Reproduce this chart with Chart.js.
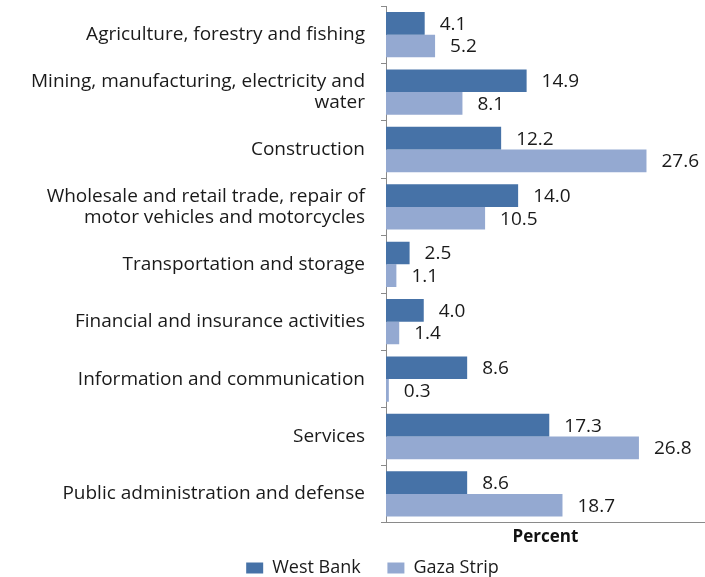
<!DOCTYPE html>
<html>
<head>
<meta charset="utf-8">
<script src="https://cdn.jsdelivr.net/npm/chart.js@4"></script>
<style>
  html, body { margin: 0; padding: 0; background: #fff; }
  #wrap { width: 705px; height: 577px; }
</style>
</head>
<body>
<div id="wrap"><canvas id="grafico"></canvas></div>
<script>
// datos del gráfico
const categorias = [
  "Agriculture, forestry and fishing",
  ["Mining, manufacturing, electricity and", "water"],
  "Construction",
  ["Wholesale and retail trade, repair of", "motor vehicles and motorcycles"],
  "Transportation and storage",
  "Financial and insurance activities",
  "Information and communication",
  "Services",
  "Public administration and defense"
];
const westBank = [4.1, 14.9, 12.2, 14.0, 2.5, 4.0, 8.6, 17.3, 8.6];
const gazaStrip = [5.2, 8.1, 27.6, 10.5, 1.1, 1.4, 0.3, 26.8, 18.7];
const series = ["West Bank", "Gaza Strip"];

const fuente = "'Open Sans', sans-serif";

// etiquetas de valor al final de cada barra
const etiquetasValor = {
  id: "etiquetasValor",
  afterLayout(chart) {
    // dejar que las etiquetas largas del eje Y ocupen el margen izquierdo
    chart.scales.y.left = 0;
  },
  afterDatasetsDraw(chart) {
    const ctx = chart.ctx;
    ctx.save();
    ctx.font = "19px " + fuente;
    ctx.fillStyle = "#1a1a1a";
    ctx.textAlign = "left";
    ctx.textBaseline = "middle";
    chart.data.datasets.forEach((ds, i) => {
      chart.getDatasetMeta(i).data.forEach((barra, j) => {
        ctx.fillText(ds.data[j].toFixed(1), barra.x + 15, barra.y + 1);
      });
    });
    ctx.restore();
  }
};

new Chart(document.getElementById("grafico"), {
  type: "bar",
  data: {
    labels: categorias,
    datasets: [
      { label: series[0], data: westBank, backgroundColor: "#4672a7", categoryPercentage: 0.79, barPercentage: 1 },
      { label: series[1], data: gazaStrip, backgroundColor: "#94a9d1", categoryPercentage: 0.79, barPercentage: 1 }
    ]
  },
  options: {
    indexAxis: "y",
    responsive: true,
    maintainAspectRatio: false,
    animation: false,
    layout: { padding: { left: 40, top: 6, right: 0, bottom: -10 } },
    plugins: {
      legend: {
        position: "bottom",
        labels: {
          font: { family: fuente, size: 18 }, color: "#1a1a1a", boxWidth: 17, boxHeight: 11, padding: 8,
          // separar un poco más los elementos de la leyenda
          generateLabels(chart) {
            const items = Chart.defaults.plugins.legend.labels.generateLabels(chart);
            items[0].text = items[0].text + "    ";
            return items;
          }
        }
      },
      tooltip: { enabled: false }
    },
    scales: {
      x: {
        min: 0,
        max: 33.8,
        grid: { display: false },
        border: { color: "#8a8a8a" },
        ticks: { display: false },
        title: { display: true, text: "Percent", font: { family: fuente, size: 17, weight: "bold" }, color: "#111", padding: { top: -4, bottom: 4 } }
      },
      y: {
        grid: { drawOnChartArea: false, drawTicks: true, tickLength: 5, offset: true, color: "#8a8a8a" },
        border: { color: "#8a8a8a" },
        ticks: { font: { family: fuente, size: 19, lineHeight: 1.1 }, color: "#1a1a1a", padding: 16, autoSkip: false },
        afterFit(escala) {
          escala.width = 346;
          escala.paddingTop = 0;
          escala.paddingBottom = 0;
        }
      }
    }
  },
  plugins: [etiquetasValor]
});
</script>
</body>
</html>
